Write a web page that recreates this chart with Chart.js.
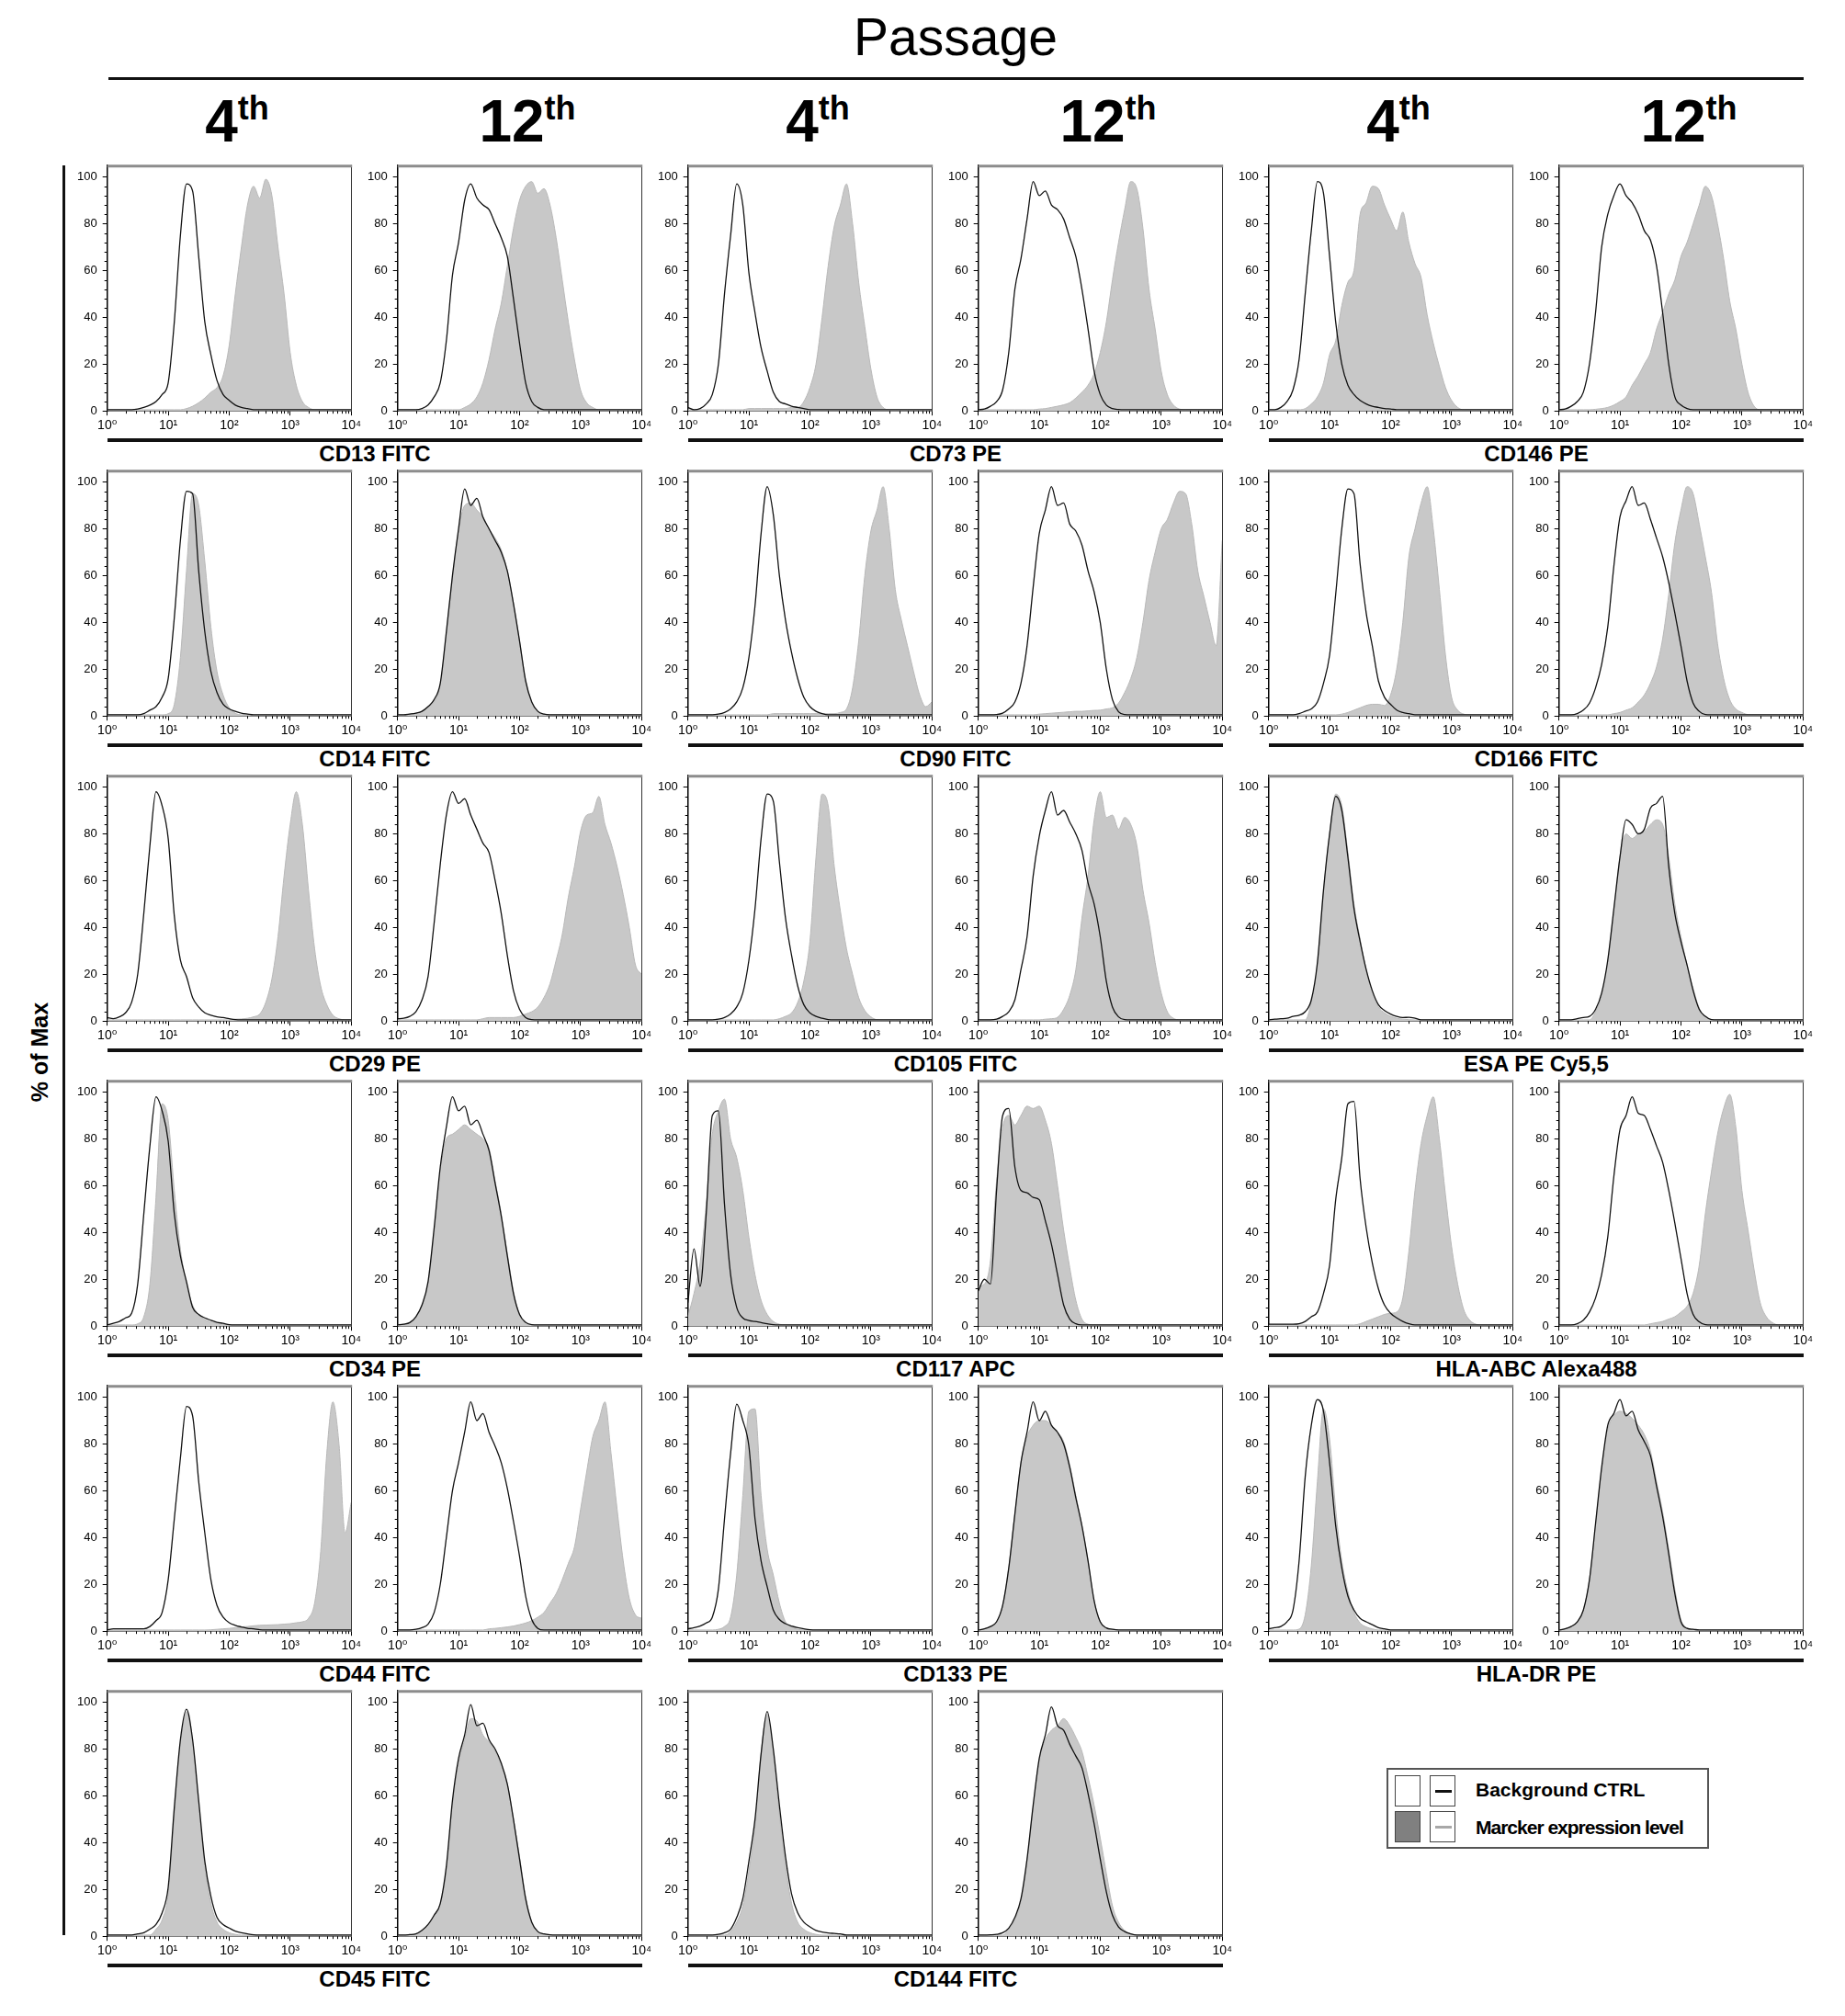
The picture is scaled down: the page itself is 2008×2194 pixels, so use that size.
<!DOCTYPE html>
<html lang="en">
<head>
<meta charset="utf-8">
<title>Passage</title>
<script src="https://cdn.jsdelivr.net/npm/chart.js@4.4.1/dist/chart.umd.min.js"></script>
<style>
  html, body { margin: 0; padding: 0; background: #fff; }
  body { position: relative; width: 2008px; height: 2194px; overflow: hidden;
         font-family: 'Liberation Sans', Arial, sans-serif; color: #000; }
  .abs { position: absolute; }
  #title { left: 840px; top: 12px; width: 400px; text-align: center; font-size: 57px; line-height: 56px; }
  #titleRule { left: 118px; top: 84px; width: 1845px; height: 3px; background: #111; }
  .head { width: 200px; top: 100px; text-align: center; font-weight: bold; font-size: 64px; line-height: 64px; }
  .head span { font-size: 36px; position: relative; top: -24px; }
  #yTitle { left: -57px; top: 1130px; width: 200px; height: 30px; line-height: 30px; text-align: center;
            font-weight: bold; font-size: 25px; transform: rotate(-90deg); }
  #yRule { left: 68px; top: 180px; width: 3px; height: 1926px; background: #111; }
  .pairRule { height: 4px; background: #111; }
  .pairLabel { text-align: center; font-weight: bold; font-size: 24px; line-height: 26px; white-space: nowrap; }
  #legend { left: 1509px; top: 1924px; width: 347px; height: 84px; border: 2px solid #555; background: #fff; }
  .sw { position: absolute; width: 28px; height: 34px; border: 1px solid #444; background: #fff; box-sizing: border-box; }
  .sw i { position: absolute; left: 5px; top: 15px; width: 18px; height: 3px; }
  .ltext { position: absolute; left: 95px; font-weight: bold; font-size: 21px; line-height: 34px; white-space: nowrap; }
</style>
</head>
<body>
<div id="title" class="abs">Passage</div>
<div id="titleRule" class="abs"></div>
<div id="yTitle" class="abs">% of Max</div>
<div id="yRule" class="abs"></div>
<div id="legend" class="abs">
  <div class="sw" style="left:7px;top:6px;"></div>
  <div class="sw" style="left:45px;top:6px;"><i style="background:#111;"></i></div>
  <div class="ltext" style="top:5px;">Background CTRL</div>
  <div class="sw" style="left:7px;top:45px;background:#808080;"></div>
  <div class="sw" style="left:45px;top:45px;"><i style="background:#a8a8a8;"></i></div>
  <div class="ltext" style="top:46px;letter-spacing:-1px;">Marcker expression level</div>
</div>
<script>
// axis: fluorescence in decades (10^0 .. 10^4), one sample every 0.1 decade
const xDecades = [0,0.1,0.2,0.3,0.4,0.5,0.6,0.7,0.8,0.9,1,1.1,1.2,1.3,1.4,1.5,1.6,1.7,1.8,1.9,2,
                  2.1,2.2,2.3,2.4,2.5,2.6,2.7,2.8,2.9,3,3.1,3.2,3.3,3.4,3.5,3.6,3.7,3.8,3.9,4];
const xTickValues = [1, 10, 100, 1000, 10000];
const xTickLabels = ['10\u2070', '10\u00B9', '10\u00B2', '10\u00B3', '10\u2074'];
const yTickValues = [0, 20, 40, 60, 80, 100];

const markerNames = ['CD13 FITC', 'CD73 PE', 'CD146 PE', 'CD14 FITC', 'CD90 FITC', 'CD166 FITC',
                     'CD29 PE', 'CD105 FITC', 'ESA PE Cy5,5', 'CD34 PE', 'CD117 APC', 'HLA-ABC Alexa488',
                     'CD44 FITC', 'CD133 PE', 'HLA-DR PE', 'CD45 FITC', 'CD144 FITC'];
const passageNames = ['4', '12'];

// % of max, background control (black line) and marker (grey fill)
const cd13_4_ctrl = [0.5,0.5,0.5,0.5,0.5, 0.8,1.5,2.5,4,7,12,38,75,97,94,66,38,24,13,7,4.5,2.5,1.5,1, 0.5,0.5,0.5,0.5,0.5, 0.5,0.5,0.5,0.5,0.5, 0.5,0.5,0.5,0.5,0.5, 0.5,0.5];
const cd13_4_mark = [0.5,0.5,0.5,0.5,0.5, 0.5,0.5,0.5,0.5,0.5, 0.5,0.5,0.5, 1,2,3.5,5.5,8,10,15,28,50,70,88,96,91,99,92,70,50,25,11,4,1.5, 0.5,0.5,0.5,0.5,0.5, 0.5,0.5];
const cd13_12_ctrl = [0.5,0.5,0.5,0.5, 1,2.5,6,12,30,58,72,90,97,91,88,86,80,74,66,48,29,12,4,1.5, 0.5,0.5,0.5,0.5,0.5, 0.5,0.5,0.5,0.5,0.5, 0.5,0.5,0.5,0.5,0.5, 0.5,0.5];
const cd13_12_mark = [0.5,0.5,0.5,0.5,0.5, 0.5,0.5,0.5,0.5,0.5, 0.5, 1.5,3,6,12,22,35,46,62,78,90,96,98,93,95,88,74,56,38,22,9,3.5,1.5, 0.5,0.5,0.5,0.5,0.5, 0.5,0.5,0.5];
const cd73_4_ctrl = [1.5,0.5,1,3,7,20,50,75,97,88,59,42,27,17,8,4,3,2,1.5,1, 0.5,0.5,0.5,0.5,0.5, 0.5,0.5,0.5,0.5,0.5, 0.5,0.5,0.5,0.5,0.5, 0.5,0.5,0.5,0.5,0.5, 0.5];
const cd73_4_mark = [0.5,0.5,0.5,0.5,0.5, 0.5,0.5,0.5,0.5,0.5, 1,1,1,1,1,1,1, 1.5,1.5,4,10,20,40,62,79,88,97,80,55,36,18,6,1.5, 0.5,0.5,0.5,0.5,0.5, 0.5,0.5,0.5];
const cd73_12_ctrl = [0.5,0.8,2,4,9,25,52,65,82,98,92,94,88,86,82,74,66,52,35,17,7,2.5,1,0.6, 0.5,0.5,0.5,0.5,0.5, 0.5,0.5,0.5,0.5,0.5, 0.5,0.5,0.5,0.5,0.5, 0.5,0.5];
const cd73_12_mark = [0.5,0.5,0.5,0.5,0.5, 0.5,0.5,0.5,0.5,0.5, 0.8,1,1.5,2,2.6,3.5,5.5,8,11,16,25,38,56,72,86,98,95,78,52,35,17,7,2.5,0.8, 0.5,0.5,0.5,0.5,0.5, 0.5,0.5];
const cd146_4_ctrl = [0.5,0.5,1.5,4,9,22,50,77,98,93,66,38,20,11,7,4.5,3,2,1.5,1,0.8, 0.5,0.5,0.5,0.5,0.5, 0.5,0.5,0.5,0.5,0.5, 0.5,0.5,0.5,0.5,0.5, 0.5,0.5,0.5,0.5,0.5];
const cd146_4_mark = [0.5,0.5,0.5,0.5,0.5, 0.5, 1,3,6,12,24,30,45,55,60,84,89,96,95,88,82,77,85,72,63,57,41,29,19,10,4.5,1.5, 0.5,0.5,0.5,0.5,0.5, 0.5,0.5,0.5,0.5];
const cd146_12_ctrl = [0.5,0.8,2,4,8,20,42,70,84,92,97,92,89,84,77,73,62,42,20,6,2.5,1, 0.5,0.5,0.5,0.5,0.5, 0.5,0.5,0.5,0.5,0.5, 0.5,0.5,0.5,0.5,0.5, 0.5,0.5,0.5,0.5];
const cd146_12_mark = [0.5,0.5,0.5,0.5,0.5, 0.5, 0.7,1,1.5,2.5,4,6,11,15,20,25,35,42,50,56,66,72,80,88,96,92,80,65,47,35,20,8,2, 0.5,0.5,0.5,0.5,0.5, 0.5,0.5,0.5];

const cd14_4_ctrl = [0.5,0.5,0.5,0.5,0.5, 0.5, 1,2.5,4,8,16,42,75,96,95,62,36,19,10,5,3,2,1.2,0.8, 0.5,0.5,0.5,0.5,0.5, 0.5,0.5,0.5,0.5,0.5, 0.5,0.5,0.5,0.5,0.5, 0.5,0.5];
const cd14_4_mark = [0.5,0.5,0.5,0.5,0.5, 0.5,0.5,0.5,0.5,0.5, 1,5,25,62,95,90,66,38,19,9,3.5,1.2, 0.5,0.5,0.5,0.5,0.5, 0.5,0.5,0.5,0.5,0.5, 0.5,0.5,0.5,0.5,0.5, 0.5,0.5,0.5,0.5];
const cd14_12_ctrl = [0.5,0.5,0.8,1.2,2,4,7,14,36,60,80,97,90,93,85,80,75,70,62,48,32,15,6,2,0.8, 0.5,0.5,0.5,0.5,0.5, 0.5,0.5,0.5,0.5,0.5, 0.5,0.5,0.5,0.5,0.5, 0.5];
const cd14_12_mark = [0.5,0.5,0.8,1.2,2,4,6,13,35,59,79,90,91,88,85,80,76,71,62,48,32,15,6,2,0.8, 0.5,0.5,0.5,0.5,0.5, 0.5,0.5,0.5,0.5,0.5, 0.5,0.5,0.5,0.5,0.5, 0.5];
const cd90_4_ctrl = [0.5,0.5,0.5,0.5,0.5, 0.8,1.5,3,6,12,25,47,78,98,86,60,41,27,16,8,4,2,1, 0.5,0.5,0.5,0.5,0.5, 0.5,0.5,0.5,0.5,0.5, 0.5,0.5,0.5,0.5,0.5, 0.5,0.5,0.5];
const cd90_4_mark = [0.5,0.5,0.5,0.5,0.5, 0.5,0.5,0.5,0.5,0.5, 0.5,0.5,0.5,0.5, 1,1,1,1,1,1,1,1,1,1,1, 1.5,3,12,32,60,79,88,98,80,54,41,30,19,9,4,6];
const cd90_12_ctrl = [0.5,0.5,0.5,0.6,1.2,3,6,14,30,55,78,88,98,90,91,82,79,73,62,53,40,20,7,1.8,0.6, 0.5,0.5,0.5,0.5,0.5, 0.5,0.5,0.5,0.5,0.5, 0.5,0.5,0.5,0.5,0.5, 0.5];
const cd90_12_mark = [0.5,0.5,0.5,0.5,0.5, 0.5,0.5,0.5,0.5,0.5, 0.8,1,1.2,1.4,1.6,1.8,2,2,2.2,2.4,2.5,3,3.5,5.5,10,16,25,40,58,70,80,84,91,96,95,82,62,51,40,30,75];
const cd166_4_ctrl = [0.5,0.5,0.5,0.5,0.5, 1,2,3,6,14,26,52,80,97,95,65,44,30,15,8,5,2.5,1.5,1, 0.5,0.5,0.5,0.5,0.5, 0.5,0.5,0.5,0.5,0.5, 0.5,0.5,0.5,0.5,0.5, 0.5,0.5];
const cd166_4_mark = [0.5,0.5,0.5,0.5,0.5, 0.5,0.5,0.5,0.5,0.5, 0.5, 0.5,0.8,1.5,2.5,3.5,4.5,5,5,4.5,9,20,40,68,80,91,98,80,54,26,8,2.5,0.8, 0.5,0.5,0.5,0.5,0.5, 0.5,0.5,0.5];
const cd166_12_ctrl = [0.5,0.5,0.5,1,2.5,5.5,12,22,38,64,85,92,98,90,91,84,76,68,57,44,30,15,5.5,2,0.6, 0.5,0.5,0.5,0.5,0.5, 0.5,0.5,0.5,0.5,0.5, 0.5,0.5,0.5,0.5,0.5, 0.5];
const cd166_12_mark = [0.5,0.5,0.5,0.5,0.5, 0.5,0.5,0.5, 0.5,1,1.5,2.5,3.5,6,9,14,21,33,52,74,88,98,95,82,68,53,31,16,7,3,1.5,0.6, 0.5,0.5,0.5,0.5,0.5, 0.5,0.5,0.5,0.5];

const cd29_4_ctrl = [1.5,1,1.8,3.5,8,20,46,75,98,92,78,45,26,19,10,6,3.5,2.5,1.8,1.5,1,0.6, 0.5,0.5,0.5,0.5,0.5, 0.5,0.5,0.5,0.5,0.5, 0.5,0.5,0.5,0.5,0.5, 0.5,0.5,0.5,0.5];
const cd29_4_mark = [0.5,0.5,0.5,0.5,0.5, 0.5,0.5,0.5,0.5,0.5, 0.5,0.5,0.5,0.5,0.5, 0.5,0.5,0.5,0.5,0.5, 0.5,0.8,0.9,1.2,1.8,3,8,18,36,62,84,98,84,56,31,15,7,2.5,1, 0.5,0.5];
const cd29_12_ctrl = [1,1.2,2,4,9,19,42,67,88,98,93,95,88,82,76,72,60,46,28,13,5,1.5,0.6, 0.5,0.5,0.5,0.5,0.5, 0.5,0.5,0.5,0.5,0.5, 0.5,0.5,0.5,0.5,0.5, 0.5,0.5,0.5];
const cd29_12_mark = [0.5,0.5,0.5,0.5,0.5, 0.5,0.5,0.5,0.5,0.5, 0.5,0.5,0.5,0.5, 1,1.5,1.5,1.5,1.5,1.5,2,3,4,6,10,16,26,37,53,66,81,88,89,96,84,76,66,54,40,24,20];
const cd105_4_ctrl = [0.5,0.5,0.5,0.5,0.5, 0.8,1.5,3,6,12,26,48,78,97,94,68,44,28,15,7,3.5,2,1.2,0.6, 0.5,0.5,0.5,0.5,0.5, 0.5,0.5,0.5,0.5,0.5, 0.5,0.5,0.5,0.5,0.5, 0.5,0.5];
const cd105_4_mark = [0.5,0.5,0.5,0.5,0.5, 0.5,0.5,0.5,0.5,0.5, 0.5,0.5,0.5,0.5, 0.5,1,2,3.5,8,17,34,70,97,92,66,47,31,20,10,4.5,1.8,0.6, 0.5,0.5,0.5,0.5,0.5, 0.5,0.5,0.5,0.5];
const cd105_12_ctrl = [0.5,0.5,0.5,0.8,2,4,9,22,36,62,79,90,98,88,90,85,80,73,59,50,36,17,6,1.8,0.6, 0.5,0.5,0.5,0.5,0.5, 0.5,0.5,0.5,0.5,0.5, 0.5,0.5,0.5,0.5,0.5, 0.5];
const cd105_12_mark = [0.5,0.5,0.5,0.5,0.5, 0.5,0.5,0.5,0.5,0.5, 0.5,0.8,1,1.6,5,11,22,44,62,86,98,87,88,82,87,84,75,56,42,25,12,4,1.2,0.5, 0.5,0.5,0.5,0.5,0.5, 0.5,0.5];
const esa_4_ctrl = [0.5,0.8,1,1.2,2,2.5,4,9,25,56,80,96,90,70,48,34,22,13,7,4.5,3,2,1.5,1.6,1.2,0.5, 0.5,0.5,0.5,0.5,0.5, 0.5,0.5,0.5,0.5,0.5, 0.5,0.5,0.5,0.5,0.5];
const esa_4_mark = [0.5,0.5,0.5,0.5,0.5, 0.5,0.5, 8,24,55,80,97,92,72,50,35,22,12,6,3.5,2,1.2,0.8,0.6, 0.5,0.5,0.5,0.5,0.5, 0.5,0.5,0.5,0.5,0.5, 0.5,0.5,0.5,0.5,0.5, 0.5,0.5];
const esa_12_ctrl = [0.5,0.5,0.5,1,1.5,2,5,12,26,48,70,86,84,80,82,91,93,96,66,46,34,24,13,5,2,0.6, 0.5,0.5,0.5,0.5,0.5, 0.5,0.5,0.5,0.5,0.5, 0.5,0.5,0.5,0.5,0.5];
const esa_12_mark = [0.5,0.5,0.5,0.5,0.5, 0.5, 4,11,25,47,70,80,78,80,81,84,86,84,70,50,36,24,14,5.5,2,0.6, 0.5,0.5,0.5,0.5,0.5, 0.5,0.5,0.5,0.5,0.5, 0.5,0.5,0.5,0.5,0.5];

const cd34_4_ctrl = [0.5,1.2,2,3.5,5.5,18,48,77,98,92,79,48,30,19,8,5,3.5,2.5,1.6,1.2,0.6, 0.5,0.5,0.5,0.5,0.5, 0.5,0.5,0.5,0.5,0.5, 0.5,0.5,0.5,0.5,0.5, 0.5,0.5,0.5,0.5,0.5];
const cd34_4_mark = [0.5,0.5,0.5,0.5,0.5, 1,4,18,55,95,88,58,33,18,9,5,2.8,1.8,1.2,0.7, 0.5,0.5,0.5,0.5,0.5, 0.5,0.5,0.5,0.5,0.5, 0.5,0.5,0.5,0.5,0.5, 0.5,0.5,0.5,0.5,0.5, 0.5];
const cd34_12_ctrl = [0.5,0.8,1.5,4,9,19,42,68,85,98,92,94,86,88,82,75,61,47,30,14,5,1.6,0.6, 0.5,0.5,0.5,0.5,0.5, 0.5,0.5,0.5,0.5,0.5, 0.5,0.5,0.5,0.5,0.5, 0.5,0.5,0.5];
const cd34_12_mark = [0.5,0.8,1.5,4,9,18,40,66,80,82,84,86,84,82,80,76,62,48,31,15,5,1.8,0.6, 0.5,0.5,0.5,0.5,0.5, 0.5,0.5,0.5,0.5,0.5, 0.5,0.5,0.5,0.5,0.5, 0.5,0.5,0.5];
const cd117_4_ctrl = [10,33,17,48,90,92,52,22,8,3.5,2.4,2,1.5,1,0.6, 0.5,0.5,0.5,0.5,0.5, 0.5,0.5,0.5,0.5,0.5, 0.5,0.5,0.5,0.5,0.5, 0.5,0.5,0.5,0.5,0.5, 0.5,0.5,0.5,0.5,0.5, 0.5];
const cd117_4_mark = [4,14,27,52,82,92,97,80,72,58,38,22,11,5,2,0.8, 0.5,0.5,0.5,0.5,0.5, 0.5,0.5,0.5,0.5,0.5, 0.5,0.5,0.5,0.5,0.5, 0.5,0.5,0.5,0.5,0.5, 0.5,0.5,0.5,0.5,0.5];
const cd117_12_ctrl = [15,20,18,58,90,93,68,58,57,55,54,45,35,22,9,3,1, 0.5,0.5,0.5,0.5,0.5, 0.5,0.5,0.5,0.5,0.5, 0.5,0.5,0.5,0.5,0.5, 0.5,0.5,0.5,0.5,0.5, 0.5,0.5,0.5,0.5];
const cd117_12_mark = [17,18,28,62,85,90,86,90,94,93,94,88,78,60,41,25,11,3,0.8, 0.5,0.5,0.5,0.5,0.5, 0.5,0.5,0.5,0.5,0.5, 0.5,0.5,0.5,0.5,0.5, 0.5,0.5,0.5,0.5,0.5, 0.5,0.5];
const hlaabc_4_ctrl = [0.8,0.8,0.8,0.8,0.8,1,2,4,6,14,26,54,72,95,96,63,42,27,16,9,5.5,3.5,2,1, 0.5,0.5,0.5,0.5,0.5, 0.5,0.5,0.5,0.5,0.5, 0.5,0.5,0.5,0.5,0.5, 0.5,0.5];
const hlaabc_4_mark = [0.5,0.5,0.5,0.5,0.5, 0.5,0.5,0.5,0.5,0.5, 0.5,0.5,0.5,0.5, 0.5,1,2,3,4,5,5.5,6,12,32,58,78,90,98,80,56,34,18,7,2.5,0.8, 0.5,0.5,0.5,0.5,0.5, 0.5];
const hlaabc_12_ctrl = [0.5,0.5,0.5,1,2.5,6,12,22,38,64,84,90,98,91,90,84,77,70,58,44,29,14,5,1.8,0.6, 0.5,0.5,0.5,0.5,0.5, 0.5,0.5,0.5,0.5,0.5, 0.5,0.5,0.5,0.5,0.5, 0.5];
const hlaabc_12_mark = [0.5,0.5,0.5,0.5,0.5, 0.5,0.5,0.5,0.5,0.5, 0.5,0.5,0.5,0.5, 0.5,1,1.5,2,3,4,6,8.5,14,26,48,66,82,93,99,85,58,41,24,10,4,1.5,0.5, 0.5,0.5,0.5,0.5];

const cd44_4_ctrl = [0.5,1,1,1,1,1,1,2,4.5,8,22,48,74,96,92,64,42,22,11,6,3.6,2.5,1.8,1.2,1,0.6, 0.5,0.5,0.5,0.5,0.5, 0.5,0.5,0.5,0.5,0.5, 0.5,0.5,0.5,0.5,0.5];
const cd44_4_mark = [0.5,0.5,0.5,0.5,0.5, 0.5,0.5,0.5,0.5,0.5, 0.5,0.5,0.5,0.5,0.5, 0.5,0.5, 0.6,0.8,1,1.2,1.5,1.8,2,2.3,2.5,2.6,2.7,2.8,3,3.2,3.6,4,5.5,12,34,76,98,80,42,55];
const cd44_12_ctrl = [0.5,0.5,0.5,0.8,1.5,3,8,20,40,60,72,85,98,90,93,85,79,72,61,47,32,15,5,1.2,0.5, 0.5,0.5,0.5,0.5,0.5, 0.5,0.5,0.5,0.5,0.5, 0.5,0.5,0.5,0.5,0.5, 0.5];
const cd44_12_mark = [0.5,0.5,0.5,0.5,0.5, 0.5,0.5,0.5,0.5,0.5, 0.5,0.5,0.5,0.5, 0.5,1,1.2,1.5,1.8,2.2,2.8,3.5,4.5,6,8,12,16,22,29,36,52,68,83,90,98,76,52,30,14,7,5.5];
const cd133_4_ctrl = [1,1.5,2.2,3.5,6,18,48,76,97,90,79,48,30,19,9,5,3.2,2.2,1.5,1,0.6, 0.5,0.5,0.5,0.5,0.5, 0.5,0.5,0.5,0.5,0.5, 0.5,0.5,0.5,0.5,0.5, 0.5,0.5,0.5,0.5,0.5];
const cd133_4_mark = [0.5,0.5,0.5,0.5, 0.5,0.8,2,6,24,58,94,95,58,35,24,12,4,1.8,0.8,0.5, 0.5,0.5,0.5,0.5,0.5, 0.5,0.5,0.5,0.5,0.5, 0.5,0.5,0.5,0.5,0.5, 0.5,0.5,0.5,0.5,0.5, 0.5];
const cd133_12_ctrl = [0.5,1,2,4,11,27,50,72,85,98,90,94,88,85,80,70,57,45,30,13,4,1.4,0.8,0.5, 0.5,0.5,0.5,0.5,0.5, 0.5,0.5,0.5,0.5,0.5, 0.5,0.5,0.5,0.5,0.5, 0.5,0.5];
const cd133_12_mark = [0.5,1,2,4,11,27,50,72,83,88,90,90,88,85,81,71,58,45,30,13,4,1.4,0.8,0.5, 0.5,0.5,0.5,0.5,0.5, 0.5,0.5,0.5,0.5,0.5, 0.5,0.5,0.5,0.5,0.5, 0.5,0.5];
const hladr_4_ctrl = [1,1.5,2,4,9,30,66,88,99,94,72,45,27,15,9,5.5,4,2.8,1.5,1,0.5, 0.5,0.5,0.5,0.5,0.5, 0.5,0.5,0.5,0.5,0.5, 0.5,0.5,0.5,0.5,0.5, 0.5,0.5,0.5,0.5,0.5];
const hladr_4_mark = [0.5,0.5,0.5,0.5, 0.5,0.9,7,28,64,95,82,52,30,17,8,3.5,1.8,1,0.5, 0.5,0.5,0.5,0.5,0.5, 0.5,0.5,0.5,0.5,0.5, 0.5,0.5,0.5,0.5,0.5, 0.5,0.5,0.5,0.5,0.5, 0.5,0.5];
const hladr_12_ctrl = [0.5,1,2,4,9,22,46,70,88,93,99,92,94,86,81,75,62,49,33,16,4,1.2,0.8,0.5, 0.5,0.5,0.5,0.5,0.5, 0.5,0.5,0.5,0.5,0.5, 0.5,0.5,0.5,0.5,0.5, 0.5,0.5];
const hladr_12_mark = [0.5,1,2,4,9,22,45,69,86,92,94,93,91,88,84,77,64,51,35,18,5,1.4,0.8,0.5, 0.5,0.5,0.5,0.5,0.5, 0.5,0.5,0.5,0.5,0.5, 0.5,0.5,0.5,0.5,0.5, 0.5,0.5];

const cd45_4_ctrl = [0.5,0.5,0.5,0.5,0.5, 1,1.5,3,5,10,21,55,84,97,84,58,32,17,8,5,3.5,2.2,1.5,1,0.6, 0.5,0.5,0.5,0.5,0.5, 0.5,0.5,0.5,0.5,0.5, 0.5,0.5,0.5,0.5,0.5, 0.5];
const cd45_4_mark = [0.5,0.5,0.5,0.5,0.5, 0.5,0.5,0.5, 3,7,18,52,82,96,83,56,30,14,6,3,1.5,0.8, 0.5,0.5,0.5,0.5,0.5, 0.5,0.5,0.5,0.5,0.5, 0.5,0.5,0.5,0.5,0.5, 0.5,0.5,0.5,0.5];
const cd45_12_ctrl = [0.5,0.5,0.7,1,2.5,5,9,14,30,58,76,86,99,90,91,84,80,74,65,50,33,16,6,2,1,0.6, 0.5,0.5,0.5,0.5,0.5, 0.5,0.5,0.5,0.5,0.5, 0.5,0.5,0.5,0.5,0.5];
const cd45_12_mark = [0.5,0.5,0.7,1,2.5,5,9,14,28,56,74,84,93,92,86,83,79,73,65,50,34,17,6,2,1,0.6, 0.5,0.5,0.5,0.5,0.5, 0.5,0.5,0.5,0.5,0.5, 0.5,0.5,0.5,0.5,0.5];
const cd144_4_ctrl = [0.5,0.5,0.5,0.5,0.5, 0.8,1.5,3,8,16,32,50,78,96,80,56,34,18,10,6,4,2.5,1.8,1.4,1.2,1, 0.5,0.5,0.5,0.5,0.5, 0.5,0.5,0.5,0.5,0.5, 0.5,0.5,0.5,0.5,0.5];
const cd144_4_mark = [0.5,0.5,0.5,0.5,0.5, 0.5,0.5, 2,6,13,28,47,78,95,78,52,30,14,6,3,1.5,0.8, 0.5,0.5,0.5,0.5,0.5, 0.5,0.5,0.5,0.5,0.5, 0.5,0.5,0.5,0.5,0.5, 0.5,0.5,0.5,0.5];
const cd144_12_ctrl = [0.5,0.5,0.6,0.8,1.5,3.5,8,16,33,56,76,86,98,90,88,82,77,72,61,48,33,19,9,4,2,1,0.5, 0.5,0.5,0.5,0.5,0.5, 0.5,0.5,0.5,0.5,0.5, 0.5,0.5,0.5,0.5];
const cd144_12_mark = [0.5,0.5,0.5,0.5,0.5, 3,7,15,32,55,75,84,88,90,93,90,85,79,68,56,42,27,13,6,2.5,1, 0.5,0.5,0.5,0.5,0.5, 0.5,0.5,0.5,0.5,0.5, 0.5,0.5,0.5,0.5,0.5];

// same order as markerNames
const ctrl4th = [cd13_4_ctrl, cd73_4_ctrl, cd146_4_ctrl, cd14_4_ctrl, cd90_4_ctrl, cd166_4_ctrl, cd29_4_ctrl, cd105_4_ctrl, esa_4_ctrl,
                 cd34_4_ctrl, cd117_4_ctrl, hlaabc_4_ctrl, cd44_4_ctrl, cd133_4_ctrl, hladr_4_ctrl, cd45_4_ctrl, cd144_4_ctrl];
const mark4th = [cd13_4_mark, cd73_4_mark, cd146_4_mark, cd14_4_mark, cd90_4_mark, cd166_4_mark, cd29_4_mark, cd105_4_mark, esa_4_mark,
                 cd34_4_mark, cd117_4_mark, hlaabc_4_mark, cd44_4_mark, cd133_4_mark, hladr_4_mark, cd45_4_mark, cd144_4_mark];
const ctrl12th = [cd13_12_ctrl, cd73_12_ctrl, cd146_12_ctrl, cd14_12_ctrl, cd90_12_ctrl, cd166_12_ctrl, cd29_12_ctrl, cd105_12_ctrl, esa_12_ctrl,
                  cd34_12_ctrl, cd117_12_ctrl, hlaabc_12_ctrl, cd44_12_ctrl, cd133_12_ctrl, hladr_12_ctrl, cd45_12_ctrl, cd144_12_ctrl];
const mark12th = [cd13_12_mark, cd73_12_mark, cd146_12_mark, cd14_12_mark, cd90_12_mark, cd166_12_mark, cd29_12_mark, cd105_12_mark, esa_12_mark,
                  cd34_12_mark, cd117_12_mark, hlaabc_12_mark, cd44_12_mark, cd133_12_mark, hladr_12_mark, cd45_12_mark, cd144_12_mark];

// layout of the panel grid (px)
const PANEL_W = 266, PANEL_H = 267;
const COL_X0 = 117, COL_STEP = 316;
const ROW_Y0 = 180, ROW_STEP = 332;

Chart.defaults.font.family = "'Liberation Sans', 'DejaVu Sans', Arial, sans-serif";
Chart.defaults.color = '#000';

// frame, minor ticks
const panelFrame = {
    id: 'panelFrame',
    afterDraw(chart) {
        const { ctx, chartArea: a, scales: { x, y } } = chart;
        ctx.save();
        ctx.strokeStyle = '#000';
        ctx.lineWidth = 1;
        ctx.beginPath();
        for (let e = 0; e < 4; e++) {
            for (let k = 2; k < 10; k++) {
                const px = Math.round(x.getPixelForValue(k * Math.pow(10, e))) + 0.5;
                ctx.moveTo(px, a.bottom);
                ctx.lineTo(px, a.bottom + 3);
            }
        }
        for (let v = 4; v < 104; v += 4) {
            if (v % 20 === 0) continue;
            const py = Math.round(y.getPixelForValue(v)) + 0.5;
            ctx.moveTo(a.left, py);
            ctx.lineTo(a.left - 3, py);
        }
        ctx.stroke();
        ctx.beginPath();
        ctx.strokeStyle = '#333';
        ctx.moveTo(Math.round(a.right) + 0.5, a.top);
        ctx.lineTo(Math.round(a.right) + 0.5, a.bottom);
        ctx.stroke();
        ctx.beginPath();
        ctx.strokeStyle = '#8c8c8c';
        ctx.lineWidth = 3;
        ctx.moveTo(a.left, a.top + 1);
        ctx.lineTo(a.right + 1, a.top + 1);
        ctx.stroke();
        ctx.restore();
    }
};

function panelConfig(ctrl, marker) {
    const toPoints = values => values.map((v, i) => ({ x: Math.pow(10, xDecades[i]), y: v }));
    return {
        type: 'line',
        data: {
            datasets: [{
                label: 'Background CTRL',
                data: toPoints(ctrl),
                borderColor: '#111',
                borderWidth: 1.3,
                fill: false,
                pointRadius: 0,
                cubicInterpolationMode: 'monotone'
            }, {
                label: 'Marcker expression level',
                data: toPoints(marker),
                borderColor: '#b9b9b9',
                backgroundColor: '#c8c8c8',
                borderWidth: 1,
                fill: 'origin',
                pointRadius: 0,
                cubicInterpolationMode: 'monotone'
            }]
        },
        options: {
            animation: false,
            responsive: false,
            maintainAspectRatio: false,
            events: [],
            layout: { padding: { top: 4, right: 4, left: 0, bottom: 0 } },
            plugins: { legend: { display: false }, tooltip: { enabled: false } },
            scales: {
                x: {
                    type: 'logarithmic',
                    min: 1,
                    max: 10000,
                    afterBuildTicks: s => { s.ticks = xTickValues.map(v => ({ value: v })); },
                    ticks: { callback: (v, i) => xTickLabels[i], autoSkip: false, maxRotation: 0, padding: 3, font: { size: 14 } },
                    grid: { drawOnChartArea: false, tickLength: 5, color: '#000' },
                    border: { color: '#000', width: 1.5 }
                },
                y: {
                    min: 0,
                    max: 105,
                    afterBuildTicks: s => { s.ticks = yTickValues.map(v => ({ value: v })); },
                    ticks: { padding: 6, font: { size: 13 } },
                    grid: { drawOnChartArea: false, tickLength: 5, color: '#000' },
                    border: { color: '#000', width: 1.5 }
                }
            }
        },
        plugins: [panelFrame]
    };
}

function placePanel(row, col, ctrl, marker) {
    const left = COL_X0 + col * COL_STEP;
    const top = ROW_Y0 + row * ROW_STEP;
    const canvas = document.createElement('canvas');
    canvas.className = 'abs';
    canvas.width = 330;
    canvas.height = 310;
    document.body.appendChild(canvas);
    // first pass only measures the axes, then the canvas is sized so the plot box is exact
    let chart = new Chart(canvas, panelConfig(ctrl, marker));
    const a0 = chart.chartArea;
    const w = Math.round(chart.width + PANEL_W - (a0.right - a0.left));
    const h = Math.round(chart.height + PANEL_H - (a0.bottom - a0.top));
    chart.destroy();
    canvas.width = w;
    canvas.height = h;
    chart = new Chart(canvas, panelConfig(ctrl, marker));
    canvas.style.left = (left - chart.chartArea.left) + 'px';
    canvas.style.top = (top - chart.chartArea.top) + 'px';
}

function addDiv(cls, css, html) {
    const d = document.createElement('div');
    d.className = 'abs ' + cls;
    Object.assign(d.style, css);
    if (html) d.innerHTML = html;
    document.body.appendChild(d);
}

// column headers
for (let c = 0; c < 6; c++) {
    addDiv('head', { left: (COL_X0 + c * COL_STEP + PANEL_W / 2 + 8 - 100) + 'px' },
        passageNames[c % 2] + '<span>th</span>');
}

markerNames.forEach((name, m) => {
    const row = Math.floor(m / 3), pair = m % 3;
    placePanel(row, pair * 2, ctrl4th[m], mark4th[m]);
    placePanel(row, pair * 2 + 1, ctrl12th[m], mark12th[m]);
    const x0 = COL_X0 + pair * 2 * COL_STEP;
    const w = COL_STEP + PANEL_W;
    const y0 = ROW_Y0 + row * ROW_STEP;
    addDiv('pairRule', { left: x0 + 'px', top: (y0 + 297) + 'px', width: w + 'px' });
    addDiv('pairLabel', { left: x0 + 'px', top: (y0 + 301) + 'px', width: w + 'px' }, name);
});
</script>
</body>
</html>
